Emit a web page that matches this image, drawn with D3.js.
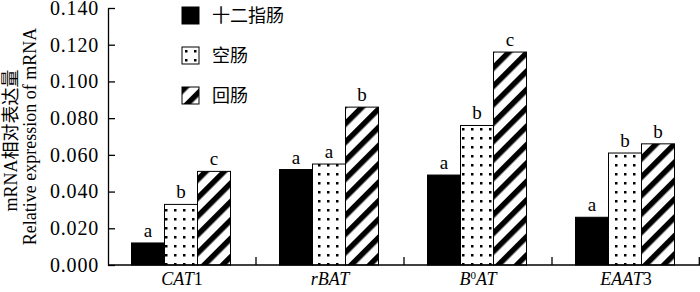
<!DOCTYPE html>
<html>
<head>
<meta charset="utf-8">
<script src="https://cdn.jsdelivr.net/npm/d3@7"></script>
<style>
  body { margin: 0; background: #fff; }
  svg { display: block; }
  .axis text { font-family: 'Liberation Serif', 'DejaVu Serif', serif; }
</style>
</head>
<body>
<div id="chart"></div>
<script>
// genes on the x axis
const genes = ['CAT1', 'rBAT', 'B0AT', 'EAAT3'];
// how each gene name is written: [text, italic?, superscript?]
const geneLabels = [
    [['CAT', true], ['1', false]],
    [['rBAT', true]],
    [['B', true], ['0', false, true], ['AT', true]],
    [['EAAT', true], ['3', false]]
];
// intestine segments (legend)
const segments = ['十二指肠', '空肠', '回肠'];
// relative mRNA expression
const duodenum = [0.012, 0.052, 0.049, 0.026];
const jejunum = [0.033, 0.055, 0.076, 0.061];
const ileum = [0.051, 0.086, 0.116, 0.066];
// significance letters
const duodenumSig = ['a', 'a', 'a', 'a'];
const jejunumSig = ['b', 'a', 'b', 'b'];
const ileumSig = ['c', 'b', 'c', 'b'];
// y axis ticks
const yTicks = [0, 0.02, 0.04, 0.06, 0.08, 0.10, 0.12, 0.14];

const series = [duodenum, jejunum, ileum];
const sigs = [duodenumSig, jejunumSig, ileumSig];
const fills = ['#000', 'url(#dots)', 'url(#hatch)'];

const width = 700, height = 292;
const margin = {top: 8, right: 0, bottom: 27, left: 108};
const plotW = width - margin.left - margin.right;
const plotH = height - margin.top - margin.bottom;

const svg = d3.select('#chart').append('svg')
    .attr('width', width)
    .attr('height', height);

// fill patterns
const defs = svg.append('defs');
const dots = defs.append('pattern')
    .attr('id', 'dots')
    .attr('patternUnits', 'userSpaceOnUse')
    .attr('width', 9).attr('height', 9);
dots.append('rect').attr('width', 9).attr('height', 9).attr('fill', '#fff');
dots.append('rect').attr('x', 3).attr('y', 3).attr('width', 2.5).attr('height', 2.5).attr('fill', '#000');

const hatch = defs.append('pattern')
    .attr('id', 'hatch')
    .attr('patternUnits', 'userSpaceOnUse')
    .attr('width', 13).attr('height', 13)
    .attr('patternTransform', 'rotate(45)');
hatch.append('rect').attr('width', 13).attr('height', 13).attr('fill', '#fff');
hatch.append('rect').attr('width', 5.5).attr('height', 13).attr('fill', '#000');

const chart = svg.append('g')
    .attr('transform', `translate(${margin.left},${margin.top})`);

// scales
const x = d3.scaleBand().domain(genes).range([0, plotW]);
const barW = 33;
const xInner = d3.scaleBand().domain(d3.range(segments.length))
    .range([0, barW * segments.length]);
const groupOffset = (x.bandwidth() - barW * segments.length) / 2 - 1;
const y = d3.scaleLinear().domain([0, 0.14]).range([plotH, 0]);

// bars
series.forEach((values, si) => {
    const g = chart.append('g').attr('class', 'series-' + si);
    g.selectAll('rect')
        .data(values)
        .join('rect')
        .attr('x', (d, i) => x(genes[i]) + groupOffset + xInner(si))
        .attr('y', d => y(d))
        .attr('width', xInner.bandwidth())
        .attr('height', d => plotH - y(d))
        .attr('fill', fills[si])
        .attr('stroke', '#000')
        .attr('stroke-width', 1);

    g.selectAll('text')
        .data(values)
        .join('text')
        .attr('x', (d, i) => x(genes[i]) + groupOffset + xInner(si) + xInner.bandwidth() / 2)
        .attr('y', d => y(d) - 6)
        .attr('text-anchor', 'middle')
        .style('font-family', 'Liberation Serif, serif')
        .style('font-size', '19px')
        .text((d, i) => sigs[si][i]);
});

// y axis
const yAxis = d3.axisLeft(y)
    .tickValues(yTicks)
    .tickFormat(d3.format('.3f'))
    .tickSize(-7)
    .tickSizeOuter(0)
    .tickPadding(9);

const yAxisG = chart.append('g').attr('class', 'axis y-axis').call(yAxis);
yAxisG.selectAll('text')
    .style('font-size', '20px')
    .style('letter-spacing', '0.8px');
yAxisG.selectAll('line, path').attr('stroke', '#000').attr('stroke-width', 1.3);

// x axis baseline with ticks at group boundaries
const xAxisG = chart.append('g').attr('class', 'axis x-axis')
    .attr('transform', `translate(0,${plotH})`);
xAxisG.append('line')
    .attr('x1', 0).attr('x2', plotW)
    .attr('stroke', '#000').attr('stroke-width', 1.3);
xAxisG.selectAll('.tick')
    .data(genes)
    .join('line')
    .attr('class', 'tick')
    .attr('x1', d => Math.min(x(d) + x.bandwidth(), plotW - 0.7))
    .attr('x2', d => Math.min(x(d) + x.bandwidth(), plotW - 0.7))
    .attr('y1', 0).attr('y2', -8)
    .attr('stroke', '#000').attr('stroke-width', 1.3);

const gl = xAxisG.selectAll('.gene-label')
    .data(genes)
    .join('text')
    .attr('class', 'gene-label')
    .attr('x', d => x(d) + x.bandwidth() / 2)
    .attr('y', 20)
    .attr('text-anchor', 'middle')
    .style('font-size', '18px');
gl.each(function (d, i) {
    const t = d3.select(this);
    geneLabels[i].forEach((p, k) => {
        const prev = geneLabels[i][k - 1];
        const ts = t.append('tspan')
            .style('font-style', p[1] ? 'italic' : 'normal')
            .text(p[0]);
        if (p[2]) {
            ts.attr('dy', -6).style('font-size', '11px');
        } else if (prev && prev[2]) {
            // back down after the superscript
            ts.attr('dy', 6);
        }
    });
});

// y axis title
const title = svg.append('text')
    .attr('transform', `translate(0,${margin.top + plotH / 2}) rotate(-90)`)
    .attr('text-anchor', 'middle')
    .style('font-family', 'Liberation Serif, Noto Sans CJK SC, serif')
    .style('font-size', '18px');
title.append('tspan').attr('x', -4).attr('y', 17).text('mRNA相对表达量');
title.append('tspan').attr('x', 0).attr('y', 36).text('Relative expression of mRNA');

// legend
const legend = svg.append('g').attr('class', 'legend');
const legRows = legend.selectAll('g')
    .data(segments)
    .join('g')
    .attr('transform', (d, i) => `translate(182,${7 + i * 40})`);
legRows.append('rect')
    .attr('width', 17).attr('height', 17)
    .attr('fill', (d, i) => fills[i])
    .attr('stroke', '#000').attr('stroke-width', 1);
legRows.append('text')
    .attr('x', 30).attr('y', 15)
    .style('font-family', 'Noto Sans CJK SC, sans-serif')
    .style('font-size', '18px')
    .text(d => d);
</script>
</body>
</html>
